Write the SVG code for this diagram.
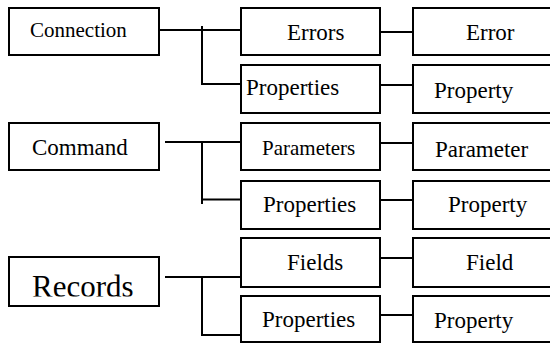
<svg xmlns="http://www.w3.org/2000/svg" width="550" height="344" viewBox="0 0 550 344">
  <style>
    .box { fill: #ffffff; stroke: #000000; stroke-width: 2; }
    text { font-family: "Liberation Serif", "DejaVu Serif", serif; font-size: 23px; fill: #000000; }
    .sm { font-size: 21px; }
    .lg { font-size: 31px; }
    .wire { fill: none; stroke: #000000; stroke-width: 2; }
  </style>
  <defs>
    <clipPath id="recordsClip">
      <rect x="10" y="258" width="148" height="38.5"/>
    </clipPath>
  </defs>
  <rect width="550" height="344" fill="#ffffff"/>

  <!-- connectors -->
  <g id="connectors" class="wire">
    <!-- Connection tree -->
    <path d="M159 30 H241 M202 26 V84 H241"/>
    <path d="M380 32 H413 M375 85 H413"/>
    <!-- Command tree -->
    <path d="M165 142 H245 M202 142 V204 M202 199.5 H241"/>
    <path d="M375 143 H413 M375 200 H413"/>
    <!-- Records tree -->
    <path d="M165 277 H245 M202 277 V335 H241"/>
    <path d="M375 258 H413 M375 315 H413"/>
  </g>

  <!-- left column -->
  <g id="connection">
    <rect class="box" x="9" y="8" width="150" height="47"/>
    <text class="sm" x="30" y="37" font-family="Liberation Serif, serif">Connection</text>
  </g>
  <g id="command">
    <rect class="box" x="9" y="123" width="150" height="47"/>
    <text x="32" y="155" font-family="Liberation Serif, serif">Command</text>
  </g>
  <g id="records">
    <rect class="box" x="9" y="257" width="150" height="49"/>
    <text class="lg" x="32" y="296.5" font-family="Liberation Serif, serif" clip-path="url(#recordsClip)">Records</text>
  </g>

  <!-- middle column -->
  <g id="errors">
    <rect class="box" x="241" y="8" width="139" height="47"/>
    <text x="287" y="40" font-family="Liberation Serif, serif">Errors</text>
  </g>
  <g id="connection-properties">
    <rect class="box" x="241" y="65" width="139" height="48"/>
    <text x="246" y="95" font-family="Liberation Serif, serif">Properties</text>
  </g>
  <g id="parameters">
    <rect class="box" x="241" y="123" width="139" height="47"/>
    <text class="sm" x="262" y="155" font-family="Liberation Serif, serif">Parameters</text>
  </g>
  <g id="command-properties">
    <rect class="box" x="241" y="181" width="139" height="48"/>
    <text x="263" y="211.5" font-family="Liberation Serif, serif">Properties</text>
  </g>
  <g id="fields">
    <rect class="box" x="241" y="238" width="139" height="49"/>
    <text x="287" y="270" font-family="Liberation Serif, serif">Fields</text>
  </g>
  <g id="records-properties">
    <rect class="box" x="241" y="296" width="139" height="46"/>
    <text x="262" y="327" font-family="Liberation Serif, serif">Properties</text>
  </g>

  <!-- right column -->
  <g id="error">
    <rect class="box" x="413" y="8" width="145" height="47"/>
    <text x="466" y="40" font-family="Liberation Serif, serif">Error</text>
  </g>
  <g id="connection-property">
    <rect class="box" x="413" y="65" width="145" height="48"/>
    <text x="434" y="98" font-family="Liberation Serif, serif">Property</text>
  </g>
  <g id="parameter">
    <rect class="box" x="413" y="123" width="145" height="47"/>
    <text x="435" y="156.5" font-family="Liberation Serif, serif">Parameter</text>
  </g>
  <g id="command-property">
    <rect class="box" x="413" y="181" width="145" height="48"/>
    <text x="448" y="211.5" font-family="Liberation Serif, serif">Property</text>
  </g>
  <g id="field">
    <rect class="box" x="413" y="238" width="145" height="49"/>
    <text x="466" y="270" font-family="Liberation Serif, serif">Field</text>
  </g>
  <g id="records-property">
    <rect class="box" x="413" y="296" width="145" height="46"/>
    <text x="434" y="328" font-family="Liberation Serif, serif">Property</text>
  </g>
</svg>
